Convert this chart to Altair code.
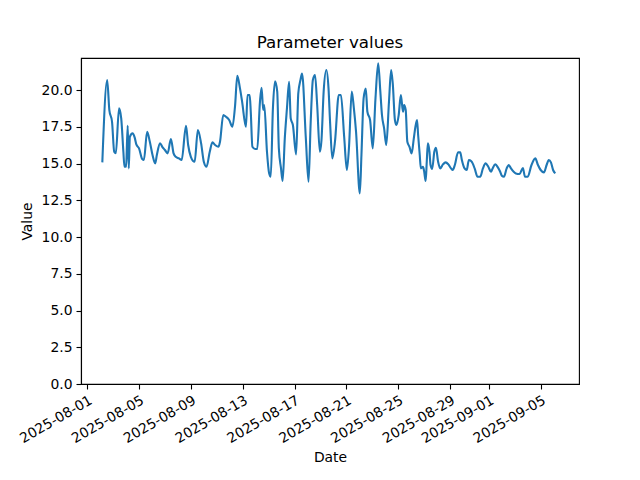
import altair as alt
import pandas as pd

dates = [
    "2025-08-02T04:00", "2025-08-02T13:00", "2025-08-02T17:00", "2025-08-02T22:00", "2025-08-03T02:00",
    "2025-08-03T05:00", "2025-08-03T11:00", "2025-08-03T15:00", "2025-08-03T19:00", "2025-08-03T21:00",
    "2025-08-04T00:00", "2025-08-04T03:00", "2025-08-04T05:00", "2025-08-04T07:00", "2025-08-04T12:00",
    "2025-08-04T16:00", "2025-08-04T19:00", "2025-08-05T00:00", "2025-08-05T06:00", "2025-08-05T09:00",
    "2025-08-05T15:00", "2025-08-05T20:00", "2025-08-06T01:00", "2025-08-06T06:00", "2025-08-06T09:00",
    "2025-08-06T15:00", "2025-08-06T19:00", "2025-08-07T00:00", "2025-08-07T05:00", "2025-08-07T11:00",
    "2025-08-07T16:00", "2025-08-07T20:00", "2025-08-08T02:00", "2025-08-08T07:00", "2025-08-08T15:00",
    "2025-08-08T19:00", "2025-08-09T00:00", "2025-08-09T07:00", "2025-08-09T13:00", "2025-08-09T19:00",
    "2025-08-10T00:00", "2025-08-10T05:00", "2025-08-10T11:00", "2025-08-10T16:00", "2025-08-10T21:00",
    "2025-08-11T03:00", "2025-08-11T06:00", "2025-08-11T12:00", "2025-08-11T17:00", "2025-08-11T23:00",
    "2025-08-12T05:00", "2025-08-12T10:00", "2025-08-12T14:00", "2025-08-12T19:00", "2025-08-12T23:00",
    "2025-08-13T06:00", "2025-08-13T09:00", "2025-08-13T13:00", "2025-08-13T15:00", "2025-08-13T18:00",
    "2025-08-13T23:00", "2025-08-14T03:00", "2025-08-14T08:00", "2025-08-14T11:00", "2025-08-14T14:00",
    "2025-08-14T16:00", "2025-08-14T21:00", "2025-08-15T01:00", "2025-08-15T04:00", "2025-08-15T08:00",
    "2025-08-15T12:00", "2025-08-15T16:00", "2025-08-15T19:00", "2025-08-15T23:00", "2025-08-16T02:00",
    "2025-08-16T06:00", "2025-08-16T10:00", "2025-08-16T14:00", "2025-08-16T17:00", "2025-08-16T21:00",
    "2025-08-17T03:00", "2025-08-17T07:00", "2025-08-17T11:00", "2025-08-17T14:00", "2025-08-17T21:00",
    "2025-08-18T02:00", "2025-08-18T06:00", "2025-08-18T10:00", "2025-08-18T14:00", "2025-08-18T18:00",
    "2025-08-18T23:00", "2025-08-19T02:00", "2025-08-19T06:00", "2025-08-19T11:00", "2025-08-19T15:00",
    "2025-08-19T18:00", "2025-08-19T22:00", "2025-08-20T03:00", "2025-08-20T10:00", "2025-08-20T14:00",
    "2025-08-20T20:00", "2025-08-21T01:00", "2025-08-21T05:00", "2025-08-21T10:00", "2025-08-21T14:00",
    "2025-08-21T18:00", "2025-08-22T01:00", "2025-08-22T04:00", "2025-08-22T08:00", "2025-08-22T12:00",
    "2025-08-22T15:00", "2025-08-22T20:00", "2025-08-23T01:00", "2025-08-23T06:00", "2025-08-23T11:00",
    "2025-08-23T15:00", "2025-08-23T18:00", "2025-08-23T22:00", "2025-08-24T02:00", "2025-08-24T07:00",
    "2025-08-24T11:00", "2025-08-24T14:00", "2025-08-24T18:00", "2025-08-24T21:00", "2025-08-25T01:00",
    "2025-08-25T05:00", "2025-08-25T09:00", "2025-08-25T11:00", "2025-08-25T14:00", "2025-08-25T17:00",
    "2025-08-25T21:00", "2025-08-26T01:00", "2025-08-26T05:00", "2025-08-26T08:00", "2025-08-26T11:00",
    "2025-08-26T13:00", "2025-08-26T16:00", "2025-08-26T18:00", "2025-08-26T22:00", "2025-08-27T00:00",
    "2025-08-27T03:00", "2025-08-27T05:00", "2025-08-27T07:00", "2025-08-27T10:00", "2025-08-27T12:00",
    "2025-08-27T15:00", "2025-08-27T19:00", "2025-08-27T22:00", "2025-08-28T02:00", "2025-08-28T06:00",
    "2025-08-28T11:00", "2025-08-28T16:00", "2025-08-28T21:00", "2025-08-29T02:00", "2025-08-29T05:00",
    "2025-08-29T09:00", "2025-08-29T15:00", "2025-08-29T19:00", "2025-08-29T22:00", "2025-08-30T03:00",
    "2025-08-30T07:00", "2025-08-30T11:00", "2025-08-30T15:00", "2025-08-30T18:00", "2025-08-30T22:00",
    "2025-08-31T03:00", "2025-08-31T08:00", "2025-08-31T13:00", "2025-08-31T18:00", "2025-08-31T23:00",
    "2025-09-01T04:00", "2025-09-01T07:00", "2025-09-01T12:00", "2025-09-01T17:00", "2025-09-01T21:00",
    "2025-09-02T00:00", "2025-09-02T04:00", "2025-09-02T09:00", "2025-09-02T13:00", "2025-09-02T17:00",
    "2025-09-02T22:00", "2025-09-03T02:00", "2025-09-03T09:00", "2025-09-03T15:00", "2025-09-03T19:00",
    "2025-09-04T00:00", "2025-09-04T07:00", "2025-09-04T14:00", "2025-09-04T19:00", "2025-09-05T00:00",
    "2025-09-05T06:00", "2025-09-05T11:00", "2025-09-05T15:00", "2025-09-05T19:00", "2025-09-05T23:00",
    "2025-09-06T03:00",
]

values = [
    15.08, 20.68, 18.64, 17.84, 15.8, 15.7, 18.75, 18.07, 15.8, 14.78,
    14.8, 17.57, 14.67, 16.82, 17.05, 16.76, 16.3, 16.03, 15.3, 15.24,
    17.16, 16.48, 15.58, 15.01, 15.58, 16.37, 16.14, 15.92, 15.69, 16.67,
    15.69, 15.46, 15.35, 15.24, 17.57, 16.26, 15.46, 15.12, 17.28, 16.37,
    15.12, 14.78, 15.8, 16.44, 16.26, 16.14, 16.48, 18.3, 18.18, 17.96,
    17.5, 18.98, 20.97, 20.11, 19.2, 17.5, 19.66, 19.66, 18.5, 16.14,
    15.99, 15.99, 19.2, 20.16, 18.64, 18.98, 15.8, 14.33, 14.1, 18.75,
    20.6, 19.89, 16.03, 14.67, 13.81, 16.71, 18.75, 20.56, 18.07, 17.62,
    15.62, 19.77, 20.68, 21.13, 16.71, 13.76, 17.84, 20.68, 21.02, 18.98,
    15.8, 16.6, 19.89, 21.36, 20.11, 17.73, 15.35, 16.5, 19.66, 19.66,
    16.82, 14.56, 16.14, 19.89, 18.75, 17.16, 12.97, 15.58, 19.43, 20.11,
    18.52, 17.96, 16.03, 19.43, 21.82, 19.89, 18.3, 17.39, 16.26, 19.2,
    21.36, 20.45, 17.96, 17.62, 18.3, 19.66, 18.52, 18.98, 18.64, 16.48,
    16.14, 15.69, 16.71, 17.5, 17.96, 16.94, 15.58, 14.67, 14.78, 14.5,
    13.81, 15.12, 16.37, 15.8, 14.9, 14.63, 15.8, 16.07, 15.12, 14.67,
    14.94, 15.08, 14.94, 14.67, 14.56, 14.9, 15.76, 15.76, 15.24, 14.67,
    14.56, 15.24, 15.17, 15.01, 14.63, 14.1, 14.1, 14.67, 15.01, 14.78,
    14.44, 14.67, 14.94, 14.72, 14.44, 14.17, 14.1, 14.67, 14.9, 14.67,
    14.44, 14.33, 14.29, 14.7, 14.1, 14.1, 14.9, 15.35, 14.9, 14.56,
    14.4, 14.9, 15.24, 15.08, 14.56, 14.33,
]

tick_dates = [
    (2025, 8, 1), (2025, 8, 5), (2025, 8, 9), (2025, 8, 13), (2025, 8, 17),
    (2025, 8, 21), (2025, 8, 25), (2025, 8, 29), (2025, 9, 1), (2025, 9, 5),
]
y_ticks = [0, 2.5, 5, 7.5, 10, 12.5, 15, 17.5, 20]

df = pd.DataFrame({"Date": dates, "Value": values})

FONT = "DejaVu Sans"

x_enc = alt.X(
    "Date:T",
    title="Date",
    scale=alt.Scale(
        domain=[
            alt.DateTime(year=2025, month=7, date=31, hours=12, minutes=30),
            alt.DateTime(year=2025, month=9, date=7, hours=23),
        ]
    ),
    axis=alt.Axis(
        values=[alt.DateTime(year=y, month=m, date=d) for (y, m, d) in tick_dates],
        format="%Y-%m-%d",
        labelAngle=-30,
        labelAlign="right",
        labelBaseline="top",
        labelOverlap=False,
        labelBound=False,
        labelFlush=False,
        grid=False,
        labelPadding=4,
        titlePadding=5,
    ),
)

y_enc = alt.Y(
    "Value:Q",
    title="Value",
    scale=alt.Scale(domain=[0, 22.18], nice=False, zero=True),
    axis=alt.Axis(values=y_ticks, format=".1f", grid=False, labelPadding=4,
                  titlePadding=7, labelOverlap=False, labelFlush=False),
)

chart = (
    alt.Chart(df)
    .mark_line(color="#1f77b4", strokeWidth=2.1, interpolate="monotone")
    .encode(x=x_enc, y=y_enc)
    .properties(
        width=498,
        height=326,
        title=alt.TitleParams("Parameter values", fontSize=16.7, fontWeight="normal", font=FONT, color="black", offset=6),
        autosize=alt.AutoSizeParams(type="none"),
        padding={"left": 73, "top": 50, "right": 52, "bottom": 90},
        background="white",
    )
    .configure_axis(
        domainColor="black",
        domainWidth=1.1,
        tickColor="black",
        tickWidth=1.1,
        tickSize=5,
        labelColor="black",
        titleColor="black",
        labelFont=FONT,
        titleFont=FONT,
        labelFontSize=13.9,
        titleFontSize=13.9,
        titleFontWeight="normal",
    )
    .configure_view(stroke="black", strokeWidth=1.1)
)

chart.save("out.html", embed_options={"renderer": "svg", "actions": False})
